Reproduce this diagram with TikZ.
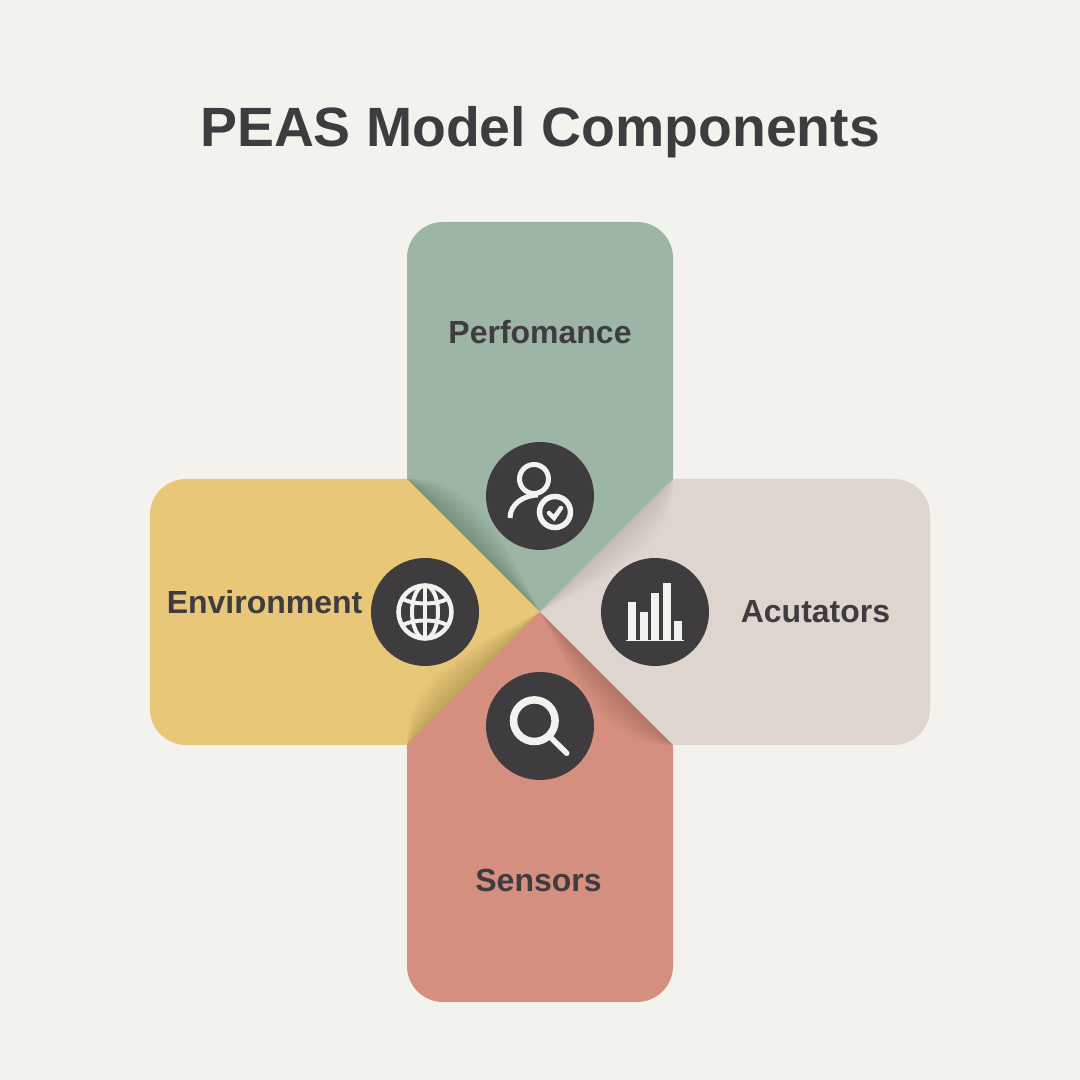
\documentclass[tikz,border=0pt]{standalone}
\usepackage{fontspec}
\setmainfont{Liberation Sans}
\definecolor{paper}{HTML}{F3F2ED}
\definecolor{ink}{HTML}{3F3C3F}
\definecolor{icon}{HTML}{F3F2EF}
\definecolor{sage}{HTML}{9DB5A5}
\definecolor{sand}{HTML}{E8C778}
\definecolor{clay}{HTML}{D58F7E}
\definecolor{stone}{HTML}{DFD5CF}
\tikzset{
  iconbg/.style={circle, fill=ink, minimum size=1.08cm, inner sep=0pt},
  armlabel/.style={text=ink, font=\bfseries\fontsize{9.1}{11}\selectfont, inner sep=0pt},
  glyph/.style={draw=icon, line width=0.05cm, line cap=round}
}

\begin{document}
\begin{tikzpicture}

\fill[paper] (0,0) rectangle (10.8,10.8);

\coordinate (mid) at (5.40,4.68);

\foreach \ang/\col in {0/sage,90/sand,180/clay,270/stone}{
  \fill[\col, rotate around={\ang:(mid)}, shift={(mid)}]
    (0,0) -- (-1.33,1.33) -- (-1.33,3.54) arc[start angle=180,end angle=90,radius=0.36]
    -- (0.97,3.90) arc[start angle=90,end angle=0,radius=0.36] -- (1.33,1.33) -- cycle;
}

% soft shadows along one edge of each arm
\foreach \ang/\op in {0/0.017,-90/0.009,-180/0.012,-270/0.013}{
  \begin{scope}[rotate around={\ang:(mid)}, shift={(mid)}]
    \foreach \b in {0.03,0.06,...,0.36}{
      \fill[black, opacity=\op] (-1.33,1.33) .. controls (-1.0+\b,1.0+\b) and (-0.53+\b*0.5,0.53+\b*0.5) .. (0,0) -- cycle;
    }
  \end{scope}
}

\node[text=ink, font=\bfseries\fontsize{15.75}{18}\selectfont, inner sep=0pt] (title) at (5.40,9.48) {PEAS Model Components};

\node[armlabel] (perf) at (5.40,7.48) {Perfomance};
\node[armlabel] (envi) at (2.645,4.78) {Environment};
\node[armlabel] (acut) at (8.155,4.68) {Acutators};
\node[armlabel] (sens) at (5.385,2.00) {Sensors};

\node[iconbg] (userbg) at (5.40,5.84) {};
\node[iconbg] (globebg) at (4.25,4.68) {};
\node[iconbg] (barsbg) at (6.55,4.68) {};
\node[iconbg] (lensbg) at (5.40,3.54) {};

% person with check mark
\begin{scope}[shift={(userbg.center)}]
  \draw[glyph] (-0.06,0.17) circle[radius=0.145];
  \draw[glyph, line cap=butt] (-0.30,-0.22) .. controls (-0.30,-0.08) and (-0.16,0.01) .. (-0.02,0.01);
  \draw[glyph, line width=0.055cm] (0.15,-0.16) circle[radius=0.155];
  \draw[glyph, line width=0.045cm] (0.09,-0.17) -- (0.14,-0.22) -- (0.21,-0.12);
\end{scope}

% globe
\begin{scope}[shift={(globebg.center)}]
  \draw[glyph, line width=0.045cm] (0,0) circle[radius=0.265];
  \draw[glyph, line width=0.04cm] (0,0) ellipse[x radius=0.13, y radius=0.265];
  \draw[glyph, line width=0.04cm] (0,-0.265) -- (0,0.265);
  \draw[glyph, line width=0.04cm] (-0.225,0.13) .. controls (-0.1,0.07) and (0.1,0.07) .. (0.225,0.13);
  \draw[glyph, line width=0.04cm] (-0.225,-0.13) .. controls (-0.1,-0.07) and (0.1,-0.07) .. (0.225,-0.13);
\end{scope}

% bar chart
\begin{scope}[shift={(barsbg.center)}]
  \fill[icon] (-0.270,-0.28) rectangle (-0.195,0.095);
  \fill[icon] (-0.155,-0.28) rectangle (-0.075,-0.005);
  \fill[icon] (-0.040,-0.28) rectangle (0.037,0.185);
  \fill[icon] (0.077,-0.28) rectangle (0.157,0.285);
  \fill[icon] (0.193,-0.28) rectangle (0.270,-0.095);
  \fill[icon] (-0.29,-0.295) rectangle (0.29,-0.28);
\end{scope}

% magnifier
\begin{scope}[shift={(lensbg.center)}]
  \draw[glyph, line width=0.075cm] (-0.057,0.053) circle[radius=0.208];
  \draw[glyph, line width=0.055cm] (0.10,-0.107) -- (0.267,-0.273);
\end{scope}

\end{tikzpicture}
\end{document}
